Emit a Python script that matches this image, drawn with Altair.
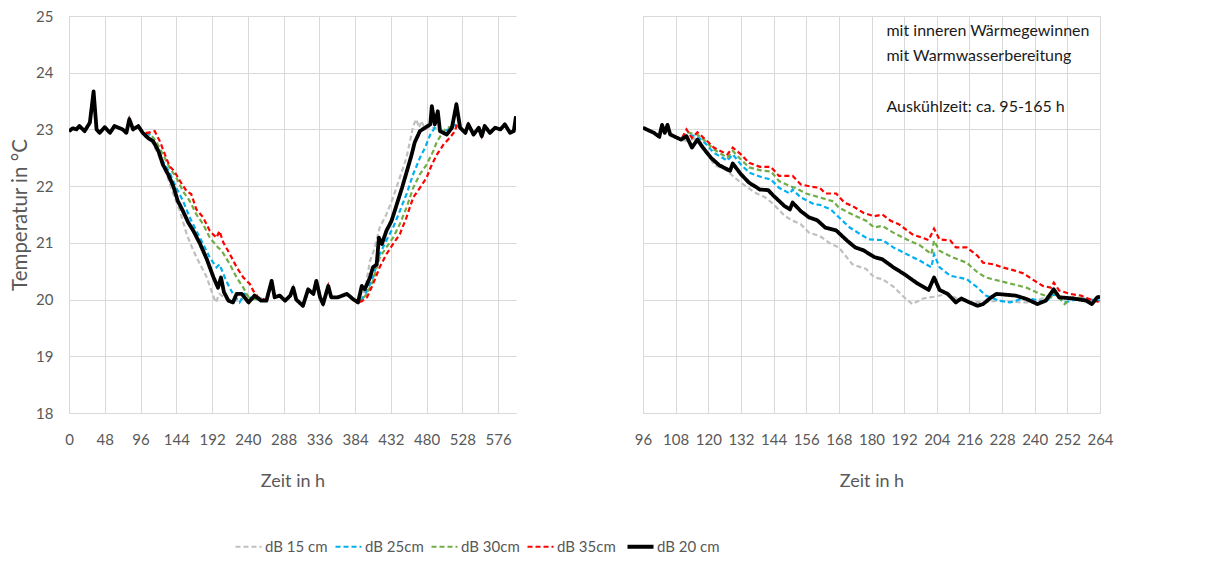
import altair as alt
import pandas as pd

SERIES = ["dB 15 cm", "dB 25cm", "dB 30cm", "dB 35cm", "dB 20 cm"]
COLORS = ["#BFBFBF", "#00B0F0", "#70AD47", "#FF0000", "#000000"]
DASHES = [[5, 3], [5, 3], [5, 3], [5, 3], [1, 0]]

X_TICKS_LEFT = [0, 48, 96, 144, 192, 240, 288, 336, 384, 432, 480, 528, 576]
X_TICKS_RIGHT = [96, 108, 120, 132, 144, 156, 168, 180, 192, 204, 216, 228, 240, 252, 264]
Y_TICKS = [18, 19, 20, 21, 22, 23, 24, 25]

NOTE_LINES = ["mit inneren Wärmegewinnen", "mit Warmwasserbereitung", "Auskühlzeit: ca. 95-165 h"]

# ---------------- left panel (0 - 600 h) ----------------
L_head_t = [0, 5, 10, 14, 21, 28, 33, 37, 41, 48, 55, 61, 72, 77, 81, 86, 93, 99]
L_head_T = [22.97, 23.02, 23.0, 23.06, 22.97, 23.12, 23.67, 23.0, 22.94, 23.04, 22.94, 23.06, 23.0, 22.94, 23.18, 23.0, 23.06, 22.94]

L_floor_t = [265, 272, 276, 283, 290, 297, 301, 305, 314, 321, 328, 332, 337, 341, 348, 352, 361, 373, 382, 388]
L_floor_T = [19.98, 20.33, 20.04, 20.07, 19.98, 20.07, 20.21, 20.0, 19.89, 20.18, 20.1, 20.33, 20.04, 19.92, 20.24, 20.04, 20.04, 20.1, 20.0, 19.95]

L_tail_t = [525, 532, 536, 543, 550, 554, 558, 565, 572, 579, 585, 592, 597, 600]
L_tail_T = [23.03, 22.94, 23.09, 22.91, 23.03, 22.88, 23.06, 22.94, 23.03, 23.0, 23.09, 22.94, 22.97, 23.23]

L_b20_dn_t = [106, 113, 120, 126, 133, 140, 146, 153, 160, 167, 176, 185, 194, 200, 204, 208, 214, 220, 225, 232, 241, 249, 258]
L_b20_dn_T = [22.85, 22.79, 22.62, 22.38, 22.21, 22.0, 21.74, 21.56, 21.36, 21.21, 20.98, 20.71, 20.39, 20.21, 20.39, 20.13, 19.98, 19.95, 20.1, 20.1, 19.95, 20.07, 19.98]
L_b20_up_t = [393, 397, 404, 408, 413, 416, 420, 426, 433, 440, 447, 453, 460, 464, 471, 478, 485, 487, 491, 495, 498, 507, 514, 520]
L_b20_up_T = [20.24, 20.18, 20.39, 20.57, 20.62, 21.09, 20.98, 21.21, 21.39, 21.68, 21.97, 22.24, 22.56, 22.77, 22.97, 23.03, 23.09, 23.41, 23.09, 23.32, 22.97, 22.91, 23.03, 23.44]

L_b15_dn_t = [106, 113, 122, 131, 140, 149, 158, 167, 176, 185, 191, 197, 202, 210, 222, 235, 248, 258]
L_b15_dn_T = [22.88, 22.74, 22.5, 22.21, 21.86, 21.56, 21.15, 20.86, 20.62, 20.39, 20.16, 19.95, 20.1, 20.02, 19.97, 20.03, 19.99, 20.01]
L_b15_up_t = [393, 399, 404, 410, 417, 426, 435, 444, 453, 462, 466, 470, 473, 478, 485, 492, 500, 510, 518]
L_b15_up_T = [20.0, 20.3, 20.68, 20.9, 21.27, 21.5, 21.8, 22.15, 22.5, 23.06, 23.18, 23.03, 23.15, 23.0, 23.05, 23.02, 22.98, 23.0, 23.05]

L_b25_dn_t = [108, 117, 126, 135, 144, 153, 162, 171, 180, 189, 198, 202, 211, 220, 229, 236, 247, 258]
L_b25_dn_T = [22.91, 22.74, 22.44, 22.24, 21.97, 21.74, 21.45, 21.21, 20.98, 20.74, 20.57, 20.62, 20.33, 20.1, 19.95, 20.1, 20.0, 20.02]
L_b25_up_t = [393, 400, 408, 417, 426, 435, 444, 453, 462, 471, 478, 485, 491, 500, 510, 518]
L_b25_up_T = [20.0, 20.15, 20.39, 20.8, 21.04, 21.27, 21.56, 21.86, 22.21, 22.5, 22.68, 22.91, 23.03, 22.97, 23.0, 23.08]

L_b30_dn_t = [108, 117, 126, 135, 144, 153, 162, 171, 180, 189, 200, 205, 216, 225, 234, 241, 247, 258]
L_b30_dn_T = [22.94, 22.79, 22.56, 22.33, 22.15, 21.91, 21.74, 21.5, 21.33, 21.09, 20.92, 20.86, 20.62, 20.39, 20.21, 20.04, 20.01, 20.0]
L_b30_up_t = [393, 400, 408, 417, 426, 435, 444, 453, 462, 471, 480, 489, 494, 500, 507, 514, 520]
L_b30_up_T = [20.0, 20.1, 20.33, 20.74, 20.92, 21.09, 21.33, 21.62, 21.97, 22.21, 22.38, 22.62, 22.79, 22.91, 23.03, 23.05, 23.5]

L_b35_dn_t = [106, 115, 122, 129, 135, 141, 149, 158, 164, 171, 180, 189, 198, 202, 207, 216, 225, 234, 243, 247, 254, 261]
L_b35_dn_T = [22.94, 22.97, 22.79, 22.55, 22.35, 22.27, 22.09, 21.91, 21.86, 21.59, 21.45, 21.21, 21.09, 21.21, 21.01, 20.8, 20.57, 20.39, 20.27, 20.16, 20.04, 20.01]
L_b35_up_t = [393, 400, 408, 417, 426, 435, 444, 453, 462, 471, 480, 487, 494, 503, 511, 518, 521]
L_b35_up_T = [19.97, 20.04, 20.27, 20.57, 20.8, 20.98, 21.15, 21.45, 21.8, 21.97, 22.15, 22.38, 22.56, 22.74, 22.85, 22.97, 23.1]

# ---------------- right panel (96 - 264 h) ----------------
R_head_t = [96, 100, 102, 103, 104, 105, 106, 110]
R_head_T = [23.03, 22.94, 22.87, 23.08, 22.94, 23.08, 22.91, 22.82]

R_b20_t = [112, 114, 116, 118, 121, 124, 128, 129, 132, 135, 139, 142, 144, 148, 150, 151, 154, 157, 160, 163,
           167, 171, 174, 177, 181, 184, 188, 192, 197, 201, 203, 205, 208, 211, 213, 216, 219, 221, 224, 226,
           233, 237, 241, 244, 247, 249, 254, 259, 261, 263, 264]
R_b20_T = [22.88, 22.68, 22.82, 22.68, 22.50, 22.37, 22.27, 22.40, 22.21, 22.06, 21.94, 21.93, 21.83, 21.65, 21.59, 21.71, 21.56, 21.45, 21.40, 21.27,
           21.22, 21.04, 20.92, 20.87, 20.75, 20.71, 20.57, 20.45, 20.28, 20.17, 20.39, 20.17, 20.10, 19.95, 20.02, 19.95, 19.89, 19.92, 20.04, 20.10,
           20.07, 20.01, 19.92, 19.98, 20.18, 20.04, 20.02, 19.98, 19.92, 20.04, 20.05]

R_b35_t = [112, 114, 116, 119, 122, 127, 129, 132, 135, 139, 143, 146, 151, 154, 158, 161, 163, 167, 170, 173,
           177, 181, 184, 187, 190, 195, 201, 203, 205, 209, 211, 215, 219, 221, 225, 228, 232, 236, 239, 243,
           246, 247, 249, 253, 257, 260, 264]
R_b35_T = [23.0, 22.85, 22.95, 22.82, 22.68, 22.56, 22.68, 22.56, 22.41, 22.34, 22.34, 22.18, 22.18, 22.03, 21.99, 21.97, 21.87, 21.87, 21.71, 21.65,
           21.53, 21.47, 21.50, 21.39, 21.33, 21.15, 21.05, 21.25, 21.06, 21.04, 20.92, 20.92, 20.77, 20.65, 20.62, 20.57, 20.52, 20.46, 20.36, 20.24,
           20.21, 20.30, 20.16, 20.10, 20.07, 20.01, 19.95]

R_b30_t = [112, 116, 119, 122, 127, 129, 132, 135, 140, 143, 146, 150, 152, 156, 161, 166, 168, 173, 178, 181,
           184, 188, 193, 198, 202, 203, 205, 210, 215, 219, 222, 227, 232, 237, 242, 246, 247, 251, 254, 259, 264]
R_b30_T = [22.95, 22.91, 22.79, 22.65, 22.50, 22.62, 22.47, 22.33, 22.27, 22.26, 22.09, 22.00, 21.97, 21.87, 21.80, 21.73, 21.62, 21.50, 21.39, 21.27,
           21.30, 21.18, 21.06, 20.95, 20.80, 21.04, 20.86, 20.74, 20.65, 20.48, 20.39, 20.33, 20.27, 20.21, 20.10, 20.04, 20.13, 19.92, 20.04, 20.01, 19.98]

R_b25_t = [112, 116, 119, 122, 127, 129, 132, 135, 140, 143, 146, 150, 151, 154, 159, 161, 165, 168, 172, 176,
           179, 184, 188, 193, 198, 202, 203, 205, 209, 212, 215, 219, 222, 227, 231, 235, 239, 244, 247, 251, 257, 264]
R_b25_T = [22.9, 22.88, 22.75, 22.59, 22.45, 22.56, 22.38, 22.24, 22.15, 22.12, 21.97, 21.87, 21.94, 21.80, 21.68, 21.67, 21.59, 21.45, 21.27, 21.15,
           21.06, 21.05, 20.92, 20.80, 20.68, 20.57, 20.80, 20.57, 20.42, 20.39, 20.36, 20.21, 20.07, 19.98, 19.95, 20.01, 20.01, 19.95, 20.10, 19.95, 20.02, 19.98]

R_b15_t = [112, 116, 119, 122, 127, 129, 132, 137, 141, 144, 148, 151, 154, 157, 161, 165, 168, 173, 178, 181,
           184, 188, 192, 195, 199, 203, 208, 213, 221, 227, 235, 239, 247, 252, 264]
R_b15_T = [22.8, 22.85, 22.65, 22.38, 22.27, 22.18, 22.06, 21.89, 21.80, 21.68, 21.48, 21.39, 21.33, 21.18, 21.12, 20.98, 20.92, 20.62, 20.54, 20.39,
           20.36, 20.23, 20.04, 19.92, 20.02, 20.05, 20.10, 19.98, 19.95, 19.98, 19.95, 19.95, 20.10, 20.01, 19.98]


def rows(name, t, T):
    assert len(t) == len(T), name
    return [{"series": name, "t": a, "T": b} for a, b in zip(t, T)]


left_parts = {
    "dB 15 cm": (L_b15_dn_t, L_b15_dn_T, L_b15_up_t, L_b15_up_T),
    "dB 25cm": (L_b25_dn_t, L_b25_dn_T, L_b25_up_t, L_b25_up_T),
    "dB 30cm": (L_b30_dn_t, L_b30_dn_T, L_b30_up_t, L_b30_up_T),
    "dB 35cm": (L_b35_dn_t, L_b35_dn_T, L_b35_up_t, L_b35_up_T),
    "dB 20 cm": (L_b20_dn_t, L_b20_dn_T, L_b20_up_t, L_b20_up_T),
}
left_rows = []
for name in SERIES:
    dt, dT, ut, uT = left_parts[name]
    left_rows += rows(name, L_head_t + dt + L_floor_t + ut + L_tail_t,
                      L_head_T + dT + L_floor_T + uT + L_tail_T)
left_df = pd.DataFrame(left_rows)

right_parts = {
    "dB 15 cm": (R_b15_t, R_b15_T),
    "dB 25cm": (R_b25_t, R_b25_T),
    "dB 30cm": (R_b30_t, R_b30_T),
    "dB 35cm": (R_b35_t, R_b35_T),
    "dB 20 cm": (R_b20_t, R_b20_T),
}
right_rows = []
for name in SERIES:
    t, T = right_parts[name]
    right_rows += rows(name, R_head_t + t, R_head_T + T)
right_df = pd.DataFrame(right_rows)

FONT = "Lato"
GREY_TXT = "#595959"
GRID = "#D9D9D9"

color_enc = alt.Color(
    "series:N",
    scale=alt.Scale(domain=SERIES, range=COLORS),
    legend=alt.Legend(
        title=None, orient="none", direction="horizontal",
        legendX=172, legendY=523,
        symbolType="stroke", symbolSize=676,
        symbolStrokeWidth=alt.ExprRef("datum.label === 'dB 20 cm' ? 4 : 2.2"),
        labelFont=FONT, labelFontSize=15, labelColor=GREY_TXT,
        labelOffset=9, columnPadding=3,
    ),
)
dash_enc = alt.StrokeDash("series:N", scale=alt.Scale(domain=SERIES, range=DASHES), legend=None)


def axes(xdom, xticks, left_axis):
    xaxis = alt.Axis(values=xticks, title="Zeit in h", labelFlush=False, labelOverlap=False,
                     tickSize=0, labelPadding=19, titlePadding=25, format="d")
    xscale = alt.Scale(domain=xdom, nice=False, zero=False)
    if left_axis:
        yaxis = alt.Axis(values=Y_TICKS, title="Temperatur in °C", tickSize=0, labelPadding=16,
                         titlePadding=5, titleFontSize=20.5, format="d")
    else:
        yaxis = alt.Axis(values=Y_TICKS, title=None, labels=False, tickSize=0)
    yscale = alt.Scale(domain=[18, 25], nice=False, zero=False)
    return xaxis, xscale, yaxis, yscale


def panel(df, xdom, xticks, left_axis):
    xaxis, xscale, yaxis, yscale = axes(xdom, xticks, left_axis)
    x = alt.X("t:Q", scale=xscale, axis=xaxis)
    y = alt.Y("T:Q", scale=yscale, axis=yaxis)
    dashed = alt.Chart(df[df.series != "dB 20 cm"]).mark_line(strokeWidth=2.2, clip=True).encode(
        x=x, y=y, color=color_enc, strokeDash=dash_enc)
    solid = alt.Chart(df[df.series == "dB 20 cm"]).mark_line(strokeWidth=3.8, clip=True, strokeJoin="round").encode(
        x=x, y=y, color=color_enc, strokeDash=dash_enc)
    return [dashed, solid]


left = alt.layer(*panel(left_df, [0, 600], X_TICKS_LEFT, True)).properties(width=447, height=397)

r_xaxis, r_xscale, r_yaxis, r_yscale = axes([96, 264], X_TICKS_RIGHT, False)
note_y = [24.74, 24.29, 23.39]
notes = [
    alt.Chart(pd.DataFrame({"note": [txt]})).mark_text(
        align="left", baseline="middle", font=FONT, fontSize=16, color="#1a1a1a").encode(
        x=alt.X(datum=185.5, type="quantitative", scale=r_xscale, axis=r_xaxis),
        y=alt.Y(datum=yv, type="quantitative", scale=r_yscale, axis=r_yaxis),
        text="note:N")
    for txt, yv in zip(NOTE_LINES, note_y)
]
right = alt.layer(*panel(right_df, [96, 264], X_TICKS_RIGHT, False), *notes).properties(width=457, height=397)

chart = alt.hconcat(left, right, spacing=118).properties(
    padding={"left": 2, "top": 1, "right": 0, "bottom": 0}
).configure_view(stroke=None).configure_axis(
    gridColor=GRID, domainColor=GRID, labelFont=FONT, titleFont=FONT, labelFontSize=15, titleFontSize=18,
    labelColor=GREY_TXT, titleColor=GREY_TXT, titleFontWeight="normal",
).configure_axisX(labelOverlap=False, labelFlush=False)

chart.save("out.html", embed_options={"renderer": "svg", "actions": False})
